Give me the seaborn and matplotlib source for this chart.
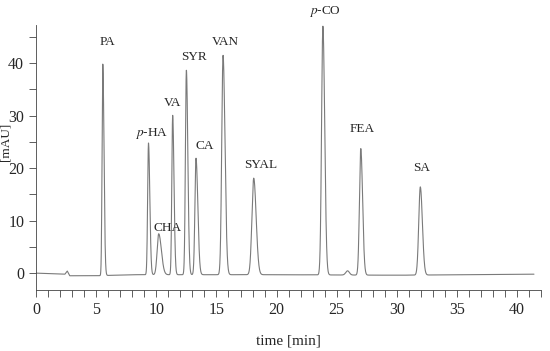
import numpy as np
import pandas as pd
import seaborn as sns
import matplotlib.pyplot as plt
from matplotlib.ticker import MultipleLocator

# peak table
peak_names = ['PA', '$p$-HA', 'CHA', 'VA', 'SYR', 'CA', 'VAN', 'SYAL', '$p$-CO', '', 'FEA', 'SA']
retention_min = [5.55, 9.35, 10.2, 11.36, 12.5, 13.3, 15.55, 18.1, 23.85, 25.9, 27.0, 31.95]
height_mau = [40.3, 25.1, 7.8, 30.4, 39.0, 22.2, 41.8, 18.4, 47.4, 0.8, 24.1, 16.8]
sigma_left = [0.06, 0.07, 0.13, 0.07, 0.08, 0.09, 0.11, 0.15, 0.11, 0.15, 0.11, 0.13]
sigma_right = [0.10, 0.11, 0.22, 0.11, 0.12, 0.15, 0.16, 0.20, 0.15, 0.15, 0.15, 0.17]

# label anchor positions (time, mAU)
label_x = [5.9, 9.6, 10.9, 11.35, 13.1, 14.0, 15.75, 18.7, 24.0, 0, 27.1, 32.1]
label_y = [44.0, 26.7, 8.6, 32.4, 41.1, 24.2, 44.0, 20.6, 49.9, 0, 27.4, 20.0]

# baseline drift readings
baseline_t = [0.0, 2.4, 2.6, 2.8, 5.0, 8.0, 20.0, 30.0, 41.4]
baseline_v = [0.0, -0.2, 0.4, -0.5, -0.5, -0.3, -0.3, -0.4, -0.2]

time = np.linspace(0, 41.4, 4000)
signal = np.interp(time, baseline_t, baseline_v)
for rt, h, sl, sr in zip(retention_min, height_mau, sigma_left, sigma_right):
    s = np.where(time < rt, sl, sr)
    signal = signal + h * np.exp(-0.5 * ((time - rt) / s) ** 2)

df = pd.DataFrame({'time [min]': time, '[mAU]': signal})

sns.set_style('ticks')
plt.rcParams['font.family'] = ['Liberation Serif', 'DejaVu Serif']
plt.rcParams['mathtext.fontset'] = 'stix'

fig = plt.figure(figsize=(5.5, 3.51), dpi=100)
ax = fig.add_axes([0.0655, 0.174, 0.9185, 0.755])
sns.lineplot(data=df, x='time [min]', y='[mAU]', ax=ax, color='#7a7a7a', linewidth=0.8)

for name, lx, ly in zip(peak_names, label_x, label_y):
    if name:
        ax.text(lx, ly, name, ha='center', va='center', fontsize=9.5)

ax.set_xlim(0, 42)
ax.set_ylim(-3.2, 47.3)
ax.xaxis.set_major_locator(MultipleLocator(5))
ax.xaxis.set_minor_locator(MultipleLocator(1))
ax.yaxis.set_major_locator(MultipleLocator(10))
ax.yaxis.set_minor_locator(MultipleLocator(5))
ax.tick_params(which='both', direction='out', labelsize=11.5, width=0.6, color='#444444')
ax.tick_params(which='major', length=5)
ax.tick_params(which='minor', length=5)
sns.despine(ax=ax)
for sp in ['left', 'bottom']:
    ax.spines[sp].set_linewidth(0.6)
    ax.spines[sp].set_color('#444444')
ax.set_xlabel('time [min]', fontsize=11, labelpad=12)
ax.set_ylabel('[mAU]', fontsize=9.5)
ax.yaxis.set_label_coords(-0.048, 0.56)

fig.savefig('out.png', dpi=100)
